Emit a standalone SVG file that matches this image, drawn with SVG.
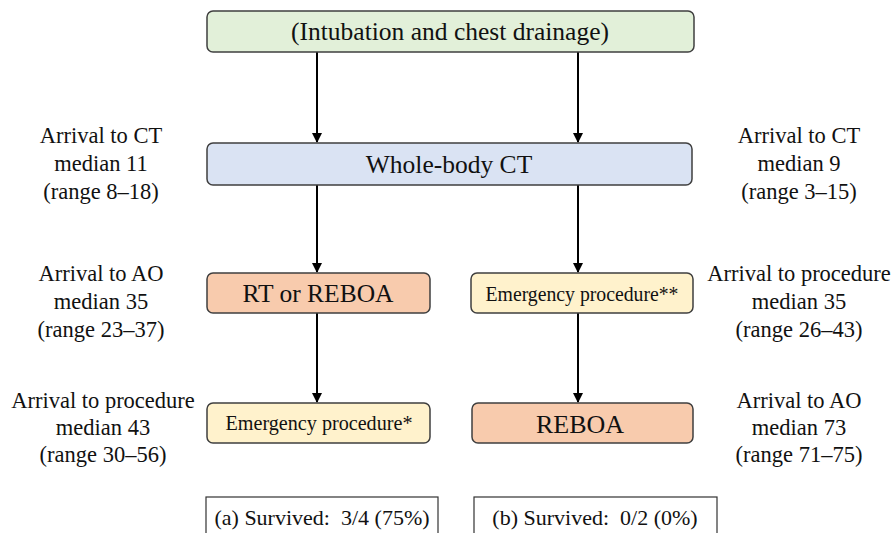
<svg xmlns="http://www.w3.org/2000/svg" width="895" height="533" viewBox="0 0 895 533">
<defs>
<marker id="ah" markerWidth="10" markerHeight="10" refX="9" refY="5" orient="auto" markerUnits="userSpaceOnUse">
<path d="M0,0 L10,5 L0,10 Z" fill="#000"/>
</marker>
</defs>
<style>
.box{stroke:#3f3f3f;stroke-width:1.5}
.cn{stroke:#000;stroke-width:2;fill:none;marker-end:url(#ah)}
.res{fill:#fff;stroke:#333;stroke-width:1.2}
</style>
<rect width="895" height="533" fill="#fff"/>
<g id="connectors">
<line class="cn" x1="317" y1="52" x2="317" y2="142"/>
<line class="cn" x1="578" y1="52" x2="578" y2="142"/>
<line class="cn" x1="317" y1="185" x2="317" y2="272"/>
<line class="cn" x1="578" y1="185" x2="578" y2="272"/>
<line class="cn" x1="317" y1="313" x2="317" y2="402"/>
<line class="cn" x1="578" y1="313" x2="578" y2="402"/>
</g>
<g id="n-top">
<rect class="box" x="207" y="11" width="487" height="41" rx="6" fill="#e2f0d9"/>
<text font-family="Liberation Serif" font-size="25.5" text-anchor="middle" fill="#111" x="450" y="40">(Intubation and chest drainage)</text>
</g>
<g id="n-ct">
<rect class="box" x="207" y="143" width="485" height="42" rx="6" fill="#dae3f3"/>
<text font-family="Liberation Serif" font-size="25.5" text-anchor="middle" fill="#111" x="449" y="173">Whole-body CT</text>
</g>
<g id="n-rt">
<rect class="box" x="207" y="273" width="223" height="40" rx="6" fill="#f8cbad"/>
<text font-family="Liberation Serif" font-size="25.5" text-anchor="middle" fill="#111" x="318" y="302">RT or REBOA</text>
</g>
<g id="n-ep2">
<rect class="box" x="471" y="273" width="222" height="40" rx="6" fill="#fff2cc"/>
<text font-family="Liberation Serif" font-size="21.5" text-anchor="middle" fill="#111" x="582" y="301" textLength="193" lengthAdjust="spacingAndGlyphs">Emergency procedure**</text>
</g>
<g id="n-ep1">
<rect class="box" x="207" y="403" width="223" height="40" rx="6" fill="#fff2cc"/>
<text font-family="Liberation Serif" font-size="21.5" text-anchor="middle" fill="#111" x="319" y="430" textLength="187" lengthAdjust="spacingAndGlyphs">Emergency procedure*</text>
</g>
<g id="n-reboa">
<rect class="box" x="472" y="403" width="221" height="40" rx="6" fill="#f8cbad"/>
<text font-family="Liberation Serif" font-size="26" text-anchor="middle" fill="#111" x="580" y="433">REBOA</text>
</g>
<g id="labels-left">
<text font-family="Liberation Serif" font-size="22.5" text-anchor="middle" fill="#111" x="101" y="143">Arrival to CT</text>
<text font-family="Liberation Serif" font-size="22.5" text-anchor="middle" fill="#111" x="101" y="171">median 11</text>
<text font-family="Liberation Serif" font-size="22.5" text-anchor="middle" fill="#111" x="101" y="199">(range 8–18)</text>
<text font-family="Liberation Serif" font-size="22.5" text-anchor="middle" fill="#111" x="101" y="281">Arrival to AO</text>
<text font-family="Liberation Serif" font-size="22.5" text-anchor="middle" fill="#111" x="101" y="309">median 35</text>
<text font-family="Liberation Serif" font-size="22.5" text-anchor="middle" fill="#111" x="101" y="337">(range 23–37)</text>
<text font-family="Liberation Serif" font-size="22.5" text-anchor="middle" fill="#111" x="103" y="408">Arrival to procedure</text>
<text font-family="Liberation Serif" font-size="22.5" text-anchor="middle" fill="#111" x="103" y="435">median 43</text>
<text font-family="Liberation Serif" font-size="22.5" text-anchor="middle" fill="#111" x="103" y="462">(range 30–56)</text>
</g>
<g id="labels-right">
<text font-family="Liberation Serif" font-size="22.5" text-anchor="middle" fill="#111" x="799" y="143">Arrival to CT</text>
<text font-family="Liberation Serif" font-size="22.5" text-anchor="middle" fill="#111" x="799" y="171">median 9</text>
<text font-family="Liberation Serif" font-size="22.5" text-anchor="middle" fill="#111" x="799" y="199">(range 3–15)</text>
<text font-family="Liberation Serif" font-size="22.5" text-anchor="middle" fill="#111" x="799" y="281">Arrival to procedure</text>
<text font-family="Liberation Serif" font-size="22.5" text-anchor="middle" fill="#111" x="799" y="309">median 35</text>
<text font-family="Liberation Serif" font-size="22.5" text-anchor="middle" fill="#111" x="799" y="337">(range 26–43)</text>
<text font-family="Liberation Serif" font-size="22.5" text-anchor="middle" fill="#111" x="799" y="408">Arrival to AO</text>
<text font-family="Liberation Serif" font-size="22.5" text-anchor="middle" fill="#111" x="799" y="435">median 73</text>
<text font-family="Liberation Serif" font-size="22.5" text-anchor="middle" fill="#111" x="799" y="462">(range 71–75)</text>
</g>
<g id="n-res-a">
<rect class="res" x="206" y="497" width="232" height="45"/>
<text font-family="Liberation Serif" font-size="22" text-anchor="middle" fill="#111" x="322" y="525" xml:space="preserve">(a) Survived:  3/4 (75%)</text>
</g>
<g id="n-res-b">
<rect class="res" x="474" y="497" width="243" height="45"/>
<text font-family="Liberation Serif" font-size="22" text-anchor="middle" fill="#111" x="595" y="525" xml:space="preserve">(b) Survived:  0/2 (0%)</text>
</g>
</svg>
